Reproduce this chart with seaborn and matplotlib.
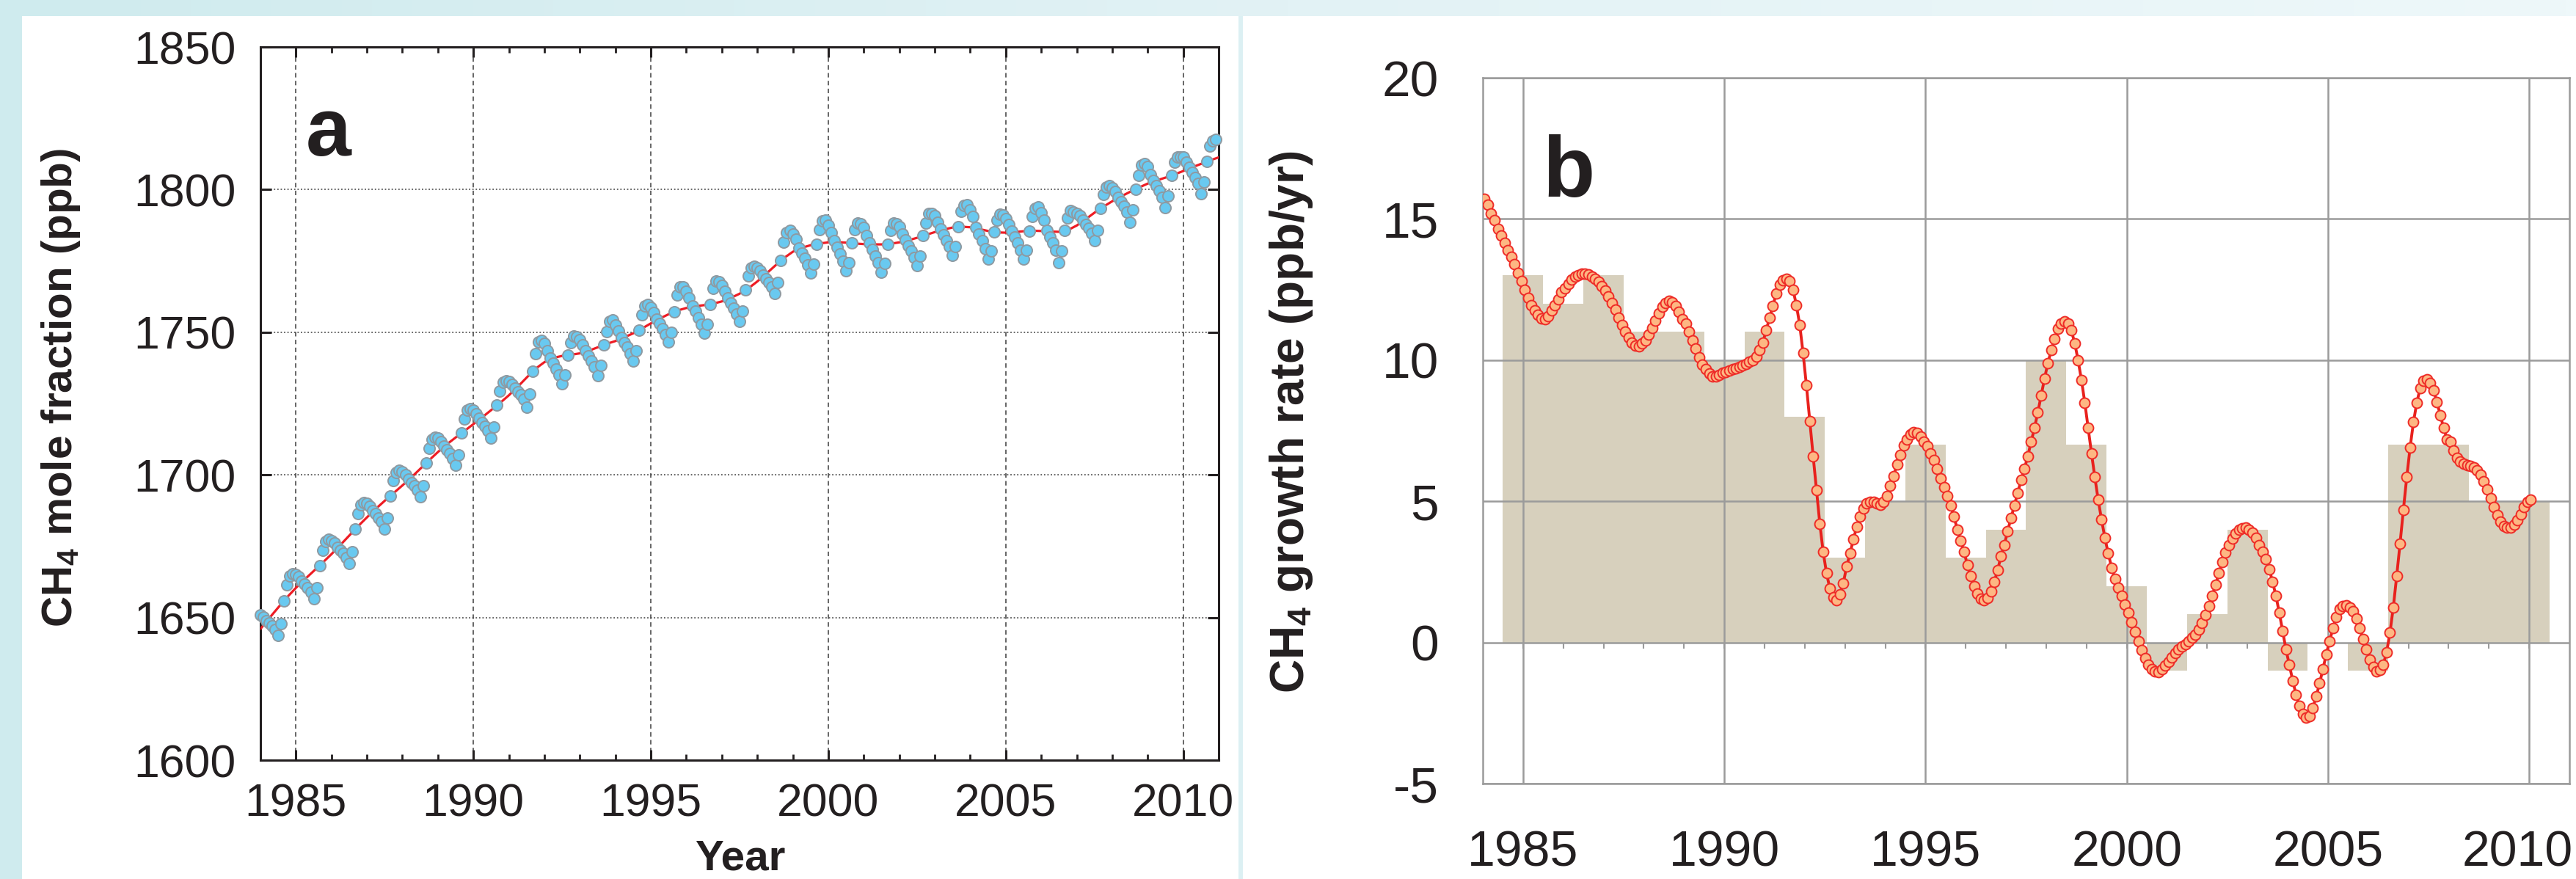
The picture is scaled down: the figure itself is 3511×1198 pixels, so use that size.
import numpy as np
import matplotlib
matplotlib.use("Agg")
import matplotlib.pyplot as plt
import seaborn as sns
from matplotlib.patches import Rectangle
from matplotlib.colors import LinearSegmentedColormap
from matplotlib.transforms import ScaledTranslation

# ------------------------------------------------------------------ data
# Panel a: monthly CH4 mole fraction (ppb), January 1984 ... December 2010
ch4_start_year = 1984
ch4_monthly = [
    1650.8, 1650.1, 1648.9, 1648.0, 1647.0, 1645.8, 1643.7, 1647.9, 1655.9, 1661.4, 1664.6, 1665.4,
    1665.2, 1664.2, 1662.8, 1661.6, 1660.4, 1658.8, 1656.5, 1660.5, 1668.2, 1673.5, 1676.6, 1677.3,
    1677.0, 1676.1, 1674.7, 1673.6, 1672.5, 1671.1, 1668.9, 1673.0, 1680.9, 1686.3, 1689.4, 1690.2,
    1689.9, 1688.9, 1687.5, 1686.3, 1685.0, 1683.5, 1681.1, 1685.0, 1692.7, 1697.9, 1700.9, 1701.5,
    1701.1, 1700.0, 1698.6, 1697.3, 1696.1, 1694.6, 1692.3, 1696.3, 1704.1, 1709.4, 1712.5, 1713.1,
    1712.8, 1711.7, 1710.2, 1708.9, 1707.5, 1705.8, 1703.3, 1707.1, 1714.6, 1719.7, 1722.6, 1723.1,
    1722.6, 1721.4, 1719.8, 1718.4, 1717.0, 1715.4, 1712.9, 1716.7, 1724.4, 1729.5, 1732.5, 1733.1,
    1732.7, 1731.7, 1730.3, 1729.1, 1728.0, 1726.5, 1723.8, 1728.3, 1736.2, 1742.5, 1746.5, 1747.2,
    1746.0, 1743.5, 1741.0, 1739.2, 1737.2, 1735.0, 1731.9, 1735.0, 1742.0, 1746.4, 1748.7, 1748.5,
    1747.4, 1745.7, 1743.6, 1741.7, 1739.9, 1737.8, 1734.9, 1738.3, 1745.5, 1750.2, 1753.8, 1754.2,
    1752.5, 1750.5, 1748.2, 1746.4, 1744.7, 1742.6, 1739.8, 1743.4, 1750.7, 1756.0, 1759.3, 1759.6,
    1758.6, 1756.8, 1754.6, 1753.0, 1751.3, 1749.3, 1746.5, 1749.9, 1757.2, 1763.0, 1766.0, 1765.8,
    1764.3, 1762.0, 1759.3, 1757.3, 1755.2, 1752.9, 1749.7, 1752.9, 1759.8, 1765.5, 1768.0, 1767.8,
    1766.5, 1764.3, 1762.0, 1760.2, 1758.5, 1756.5, 1753.7, 1757.3, 1764.8, 1769.7, 1772.6, 1773.1,
    1772.6, 1771.5, 1770.0, 1768.7, 1767.4, 1765.9, 1763.5, 1767.4, 1775.1, 1781.5, 1785.0, 1785.6,
    1784.5, 1782.5, 1779.5, 1777.8, 1775.9, 1773.7, 1770.7, 1773.9, 1780.9, 1786.0, 1789.0, 1789.2,
    1787.5, 1784.8, 1782.0, 1779.8, 1777.5, 1775.0, 1771.6, 1774.5, 1781.2, 1786.0, 1788.2, 1788.0,
    1786.8, 1784.0, 1781.2, 1779.0, 1776.8, 1774.3, 1771.0, 1774.1, 1780.9, 1785.8, 1788.2, 1788.0,
    1787.0, 1784.5, 1782.4, 1780.4, 1778.5, 1776.3, 1773.3, 1776.6, 1783.8, 1788.4, 1791.5, 1791.7,
    1790.8, 1788.5, 1786.1, 1784.2, 1782.2, 1780.0, 1776.9, 1780.0, 1786.9, 1792.3, 1794.5, 1794.6,
    1793.0, 1790.5, 1786.8, 1784.4, 1782.0, 1779.2, 1775.7, 1778.5, 1785.2, 1789.3, 1791.4, 1791.0,
    1789.7, 1787.8, 1785.4, 1783.3, 1781.2, 1778.8, 1775.6, 1778.7, 1785.5, 1790.5, 1793.5, 1794.0,
    1791.8, 1789.2, 1785.8, 1783.5, 1781.3, 1778.7, 1774.3, 1778.6, 1785.6, 1790.1, 1792.7, 1792.2,
    1791.6, 1790.9, 1789.3, 1787.8, 1786.4, 1784.6, 1782.1, 1785.8, 1793.3, 1798.3, 1801.0, 1801.4,
    1800.7, 1799.3, 1797.4, 1795.8, 1794.1, 1792.2, 1788.6, 1792.9, 1800.2, 1805.0, 1808.5, 1809.0,
    1808.0, 1805.3, 1803.2, 1801.4, 1799.5, 1797.4, 1793.8, 1797.8, 1804.9, 1809.6, 1811.5, 1811.5,
    1811.3, 1809.7, 1807.8, 1806.0, 1804.2, 1802.1, 1798.5, 1802.6, 1809.8, 1815.4, 1817.0, 1817.7,
]

# Panel a: deseasonalised trend (ppb), quarterly from 1984.0 to 2011.0
trend_start_year = 1984
trend_quarterly = [
    1646.0, 1649.8, 1653.5, 1657.1, 1660.4, 1663.4, 1666.3, 1669.2,
    1672.2, 1675.4, 1678.7, 1682.0, 1685.1, 1688.1, 1690.9, 1693.6,
    1696.3, 1699.1, 1702.1, 1705.1, 1708.0, 1710.7, 1713.1, 1715.4,
    1717.8, 1720.2, 1722.7, 1725.2, 1727.9, 1730.9, 1734.1, 1737.2,
    1739.5, 1741.0, 1741.7, 1742.1, 1742.6, 1743.5, 1744.7, 1745.9,
    1746.9, 1748.2, 1749.6, 1751.3, 1753.1, 1754.8, 1756.3, 1757.6,
    1758.5, 1759.1, 1759.5, 1760.0, 1760.8, 1762.0, 1763.5, 1765.4,
    1767.8, 1770.5, 1773.3, 1776.0, 1778.2, 1779.6, 1780.5, 1781.1,
    1781.5, 1781.6, 1781.4, 1781.1, 1780.9, 1780.8, 1780.8, 1781.0,
    1781.5, 1782.2, 1783.1, 1784.1, 1785.1, 1786.0, 1786.7, 1787.0,
    1786.8, 1786.2, 1785.5, 1785.0, 1784.9, 1785.1, 1785.4, 1785.6,
    1785.5, 1785.3, 1785.2, 1785.8, 1787.4, 1789.6, 1791.9, 1794.0,
    1795.9, 1797.6, 1799.2, 1800.7, 1802.1, 1803.2, 1804.2, 1805.3,
    1806.5, 1807.8, 1809.0, 1810.2, 1811.3,
]

# Panel b: monthly growth rate (ppb/yr), mid-January 1984 ... mid-January 2010
growth_start_year = 1984 + 1 / 24
growth_monthly = [
    15.7, 15.5, 15.2, 14.95, 14.65, 14.4, 14.15, 13.9, 13.65, 13.4, 13.1, 12.8,
    12.5, 12.2, 11.95, 11.75, 11.6, 11.47, 11.45, 11.55, 11.75, 11.95, 12.15, 12.4,
    12.55, 12.7, 12.85, 12.95, 13.02, 13.06, 13.06, 13.03, 12.97, 12.88, 12.78, 12.63,
    12.47, 12.25, 12.02, 11.8, 11.5, 11.25, 11.0, 10.8, 10.62, 10.52, 10.5, 10.6,
    10.7, 10.9, 11.15, 11.4, 11.65, 11.88, 12.03, 12.1, 12.05, 11.92, 11.72, 11.45,
    11.3, 11.0, 10.7, 10.4, 10.1, 9.85, 9.67, 9.52, 9.43, 9.43, 9.48, 9.55,
    9.58, 9.63, 9.68, 9.72, 9.77, 9.82, 9.87, 9.93, 10.0, 10.12, 10.35, 10.62,
    11.06, 11.49, 11.93, 12.35, 12.66, 12.84, 12.88, 12.8, 12.5, 11.95, 11.25, 10.25,
    9.1, 7.85, 6.6, 5.4, 4.2, 3.2, 2.45, 1.9, 1.6, 1.5, 1.7, 2.1,
    2.7, 3.15, 3.65, 4.1, 4.45, 4.75, 4.92, 4.98, 4.97, 4.92, 4.88, 4.97,
    5.2, 5.55, 5.9, 6.3, 6.65, 6.98, 7.2, 7.38, 7.45, 7.42, 7.3, 7.1,
    6.95, 6.7, 6.45, 6.15, 5.8, 5.5, 5.2, 4.85, 4.45, 4.0, 3.6, 3.2,
    2.75, 2.35, 2.0, 1.72, 1.55, 1.5, 1.57, 1.8, 2.15, 2.55, 3.05, 3.45,
    3.95, 4.4, 4.85, 5.3, 5.75, 6.15, 6.6, 7.1, 7.6, 8.15, 8.75, 9.35,
    9.9, 10.35, 10.75, 11.1, 11.3, 11.38, 11.3, 11.05, 10.6, 10.0, 9.3, 8.5,
    7.6, 6.7, 5.85, 5.05, 4.35, 3.7, 3.15, 2.65, 2.25, 1.95, 1.65, 1.35,
    1.05, 0.72, 0.38, 0.05, -0.28, -0.56, -0.78, -0.95, -1.03, -1.04, -0.95, -0.82,
    -0.68, -0.52, -0.38, -0.25, -0.14, -0.05, 0.05, 0.16, 0.28, 0.45, 0.68, 0.97,
    1.3, 1.65, 2.05, 2.45, 2.85, 3.18, 3.45, 3.67, 3.86, 3.98, 4.04, 4.06,
    4.0, 3.88, 3.7, 3.45, 3.22, 2.95, 2.6, 2.15, 1.65, 1.05, 0.4, -0.25,
    -0.8, -1.35, -1.85, -2.25, -2.52, -2.66, -2.6, -2.32, -1.92, -1.45, -0.95, -0.42,
    0.05, 0.5, 0.9, 1.18, 1.3, 1.32, 1.25, 1.1, 0.85, 0.5, 0.12, -0.25,
    -0.6, -0.88, -1.03, -0.98, -0.78, -0.35, 0.35, 1.25, 2.35, 3.5, 4.7, 5.85,
    6.9, 7.8, 8.5, 9.0, 9.27, 9.33, 9.2, 8.92, 8.52, 8.05, 7.6, 7.2,
    7.1, 6.8, 6.55, 6.4, 6.33, 6.29, 6.26, 6.2, 6.1, 5.93, 5.7, 5.42,
    5.12, 4.8, 4.5, 4.27, 4.13, 4.07, 4.08, 4.17, 4.32, 4.55, 4.8, 4.98,
    5.05,
]

# Panel b: annual growth rate bars (ppb/yr)
annual_years = list(range(1985, 2011))
annual_growth = [13, 12, 13, 11, 11, 10, 11, 8, 3, 5, 7, 3, 4,
                 10, 7, 2, -1, 1, 4, -1, 0, -1, 7, 7, 5, 5]

year_ticks = [1985, 1990, 1995, 2000, 2005, 2010]
ch4_yticks = [1600, 1650, 1700, 1750, 1800, 1850]
growth_yticks = [-5, 0, 5, 10, 15, 20]

# ------------------------------------------------------------------ style
sns.set_style("white")
FONT = "Liberation Sans"
plt.rcParams["font.family"] = [FONT, "DejaVu Sans"]
plt.rcParams["axes.unicode_minus"] = False
plt.rcParams["mathtext.default"] = "regular"

W, H = 3511, 1198
TXT = "#231f20"
fig = plt.figure(figsize=(W / 100, H / 100), dpi=100, facecolor="white")

# background frame (light cyan bands)
bg = fig.add_axes([0, 0, 1, 1], zorder=-10)
band = LinearSegmentedColormap.from_list("band", ["#cfebee", "#e2f2f5", "#eef8fa"])
bg.imshow(np.linspace(0, 1, 256)[None, :], extent=[0, W, 22, 0], aspect="auto", cmap=band)
bg.add_patch(Rectangle((0, 0), 30, H, color="#cfebee", lw=0))
bg.add_patch(Rectangle((1688, 22), 6, H, color="#dcf0f3", lw=0))
bg.set_xlim(0, W)
bg.set_ylim(H, 0)
bg.axis("off")


def fig_rect(x0, y0, x1, y1):
    return [x0 / W, 1 - y1 / H, (x1 - x0) / W, (y1 - y0) / H]


# ------------------------------------------------------------------ panel a
axA = fig.add_axes(fig_rect(355, 64, 1661, 1036))
ch4_x = ch4_start_year + np.arange(len(ch4_monthly)) / 12
trend_x = trend_start_year + np.arange(len(trend_quarterly)) / 4

sns.lineplot(x=trend_x, y=trend_quarterly, ax=axA, color="#ee1c24", lw=2.3, zorder=2.6)
sns.scatterplot(x=ch4_x, y=ch4_monthly, ax=axA, s=118, color="#69c9f0",
                edgecolor="#8e9aa2", linewidth=1.4, zorder=3, clip_on=False)

axA.set_xlim(1984, 2011)
axA.set_ylim(1600, 1850)
axA.set_xticks(year_ticks)
axA.set_xticks(range(1984, 2012), minor=True)
axA.set_yticks(ch4_yticks)
axA.set_axisbelow(True)
axA.grid(True, axis="x", which="major", color="#3c3c3c", lw=1.1, linestyle=(0, (4, 3)))
axA.grid(True, axis="y", which="major", color="#3c3c3c", lw=1.1, linestyle=(0, (1.2, 1.8)))
for sp in axA.spines.values():
    sp.set_color(TXT)
    sp.set_linewidth(2.2)
axA.tick_params(axis="x", which="major", direction="in", length=10, width=2.2,
                top=True, bottom=True, labelsize=45, pad=22, labelcolor=TXT, color=TXT)
axA.tick_params(axis="x", which="minor", direction="in", length=6, width=2,
                top=True, bottom=True, color=TXT)
axA.tick_params(axis="y", which="major", direction="in", length=11, width=2.2,
                left=True, right=True, labelsize=45, pad=24, labelcolor=TXT, color=TXT)
axA.set_xlabel("")
axA.set_ylabel("")
axA.text(0.047, 0.848, "a", transform=axA.transAxes, fontsize=80, fontweight="bold",
         va="baseline", ha="left", color=TXT)

fig.text(1009 / W, 1 - 1197 / H, "Year", ha="center", va="bottom", fontsize=42,
         fontweight="bold", color=TXT)
fig.text(83 / W, 1 - 529 / H, r"CH$_4$ mole fraction (ppb)", rotation=90,
         ha="center", va="center", fontsize=42, fontweight="bold", color=TXT)

# ------------------------------------------------------------------ panel b
axB = fig.add_axes(fig_rect(2021, 106, 3502, 1068))
growth_x = growth_start_year + np.arange(len(growth_monthly)) / 12

sns.histplot(x=annual_years, weights=annual_growth, discrete=True, ax=axB,
             color="#d7d0bd", alpha=1, linewidth=0, edgecolor="none", zorder=1)
sns.lineplot(x=growth_x, y=growth_monthly, ax=axB, color="#e8211d", lw=2.8,
             marker="o", markersize=10, markerfacecolor="#fdb783",
             markeredgecolor="#ee2b27", markeredgewidth=1.4, zorder=3)

axB.set_xlim(1984, 2011)
axB.set_ylim(-5, 20)
axB.set_xticks(year_ticks)
axB.set_yticks(growth_yticks)
axB.set_axisbelow("line")
GRID = "#9b9b9b"
axB.grid(True, color=GRID, lw=1.8)
for sp in axB.spines.values():
    sp.set_color(GRID)
    sp.set_linewidth(1.8)
axB.tick_params(axis="x", which="major", direction="out", length=3, width=1.8,
                labelsize=49, pad=42, labelcolor=TXT, color=GRID)
axB.tick_params(axis="y", which="major", direction="out", length=10, width=1.8,
                labelsize=50, pad=33, labelcolor=TXT, color=GRID)
axB.set_xlabel("")
axB.set_ylabel("")
# last year label sits slightly left of its tick, as in the original
last_lbl = axB.get_xticklabels()[-1]
last_lbl.set_transform(last_lbl.get_transform() + ScaledTranslation(-0.16, 0, fig.dpi_scale_trans))

sec = axB.secondary_xaxis(0.2)
sec.set_xticks(annual_years)
sec.tick_params(direction="out", length=6, width=1.5, colors=GRID,
                labelbottom=False, labeltop=False)
for sp in sec.spines.values():
    sp.set_visible(False)

axB.text(0.0547, 0.832, "b", transform=axB.transAxes, fontsize=84, fontweight="bold",
         va="baseline", ha="left", color=TXT)
fig.text(1760 / W, 1 - 575 / H, r"CH$_4$ growth rate (ppb/yr)", rotation=90,
         ha="center", va="center", fontsize=46, fontweight="bold", color=TXT)

fig.savefig("out.png", dpi=100, facecolor="white")
